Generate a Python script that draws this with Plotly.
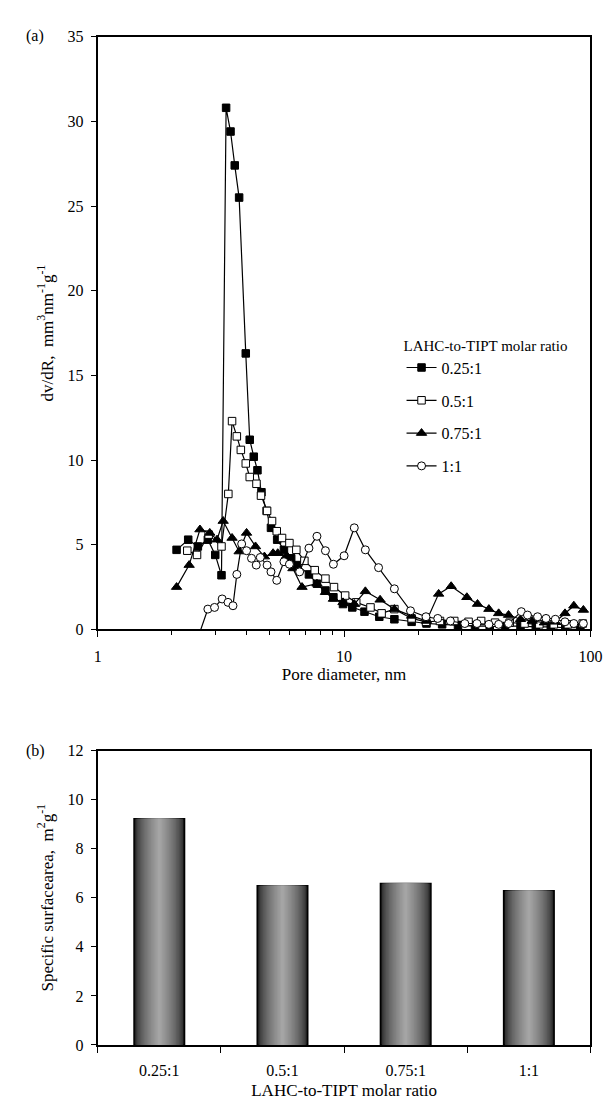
import plotly.graph_objects as go

# ---------------- data: panel (a) ----------------
series_names = ["0.25:1", "0.5:1", "0.75:1", "1:1"]

pore_025 = [2.09, 2.33, 2.55, 2.80, 3.00, 3.18, 3.32, 3.46, 3.60, 3.75, 3.99, 4.14, 4.30, 4.45, 4.62,
            4.85, 5.05, 5.35, 5.70, 6.10, 6.46, 7.20, 7.76, 8.40, 9.05, 9.90, 10.8, 12.1, 13.9, 16.0,
            18.8, 21.6, 25.0, 29.0, 34.0, 39.0, 45.0, 52.0, 60.0, 69.0, 79.0, 91.0]
dvdr_025 = [4.7, 5.3, 4.9, 5.3, 4.4, 3.2, 30.8, 29.4, 27.4, 25.5, 16.3, 11.2, 10.2, 9.4, 8.1,
            7.0, 6.0, 5.3, 4.7, 4.2, 3.8, 3.25, 2.7, 2.3, 1.9, 1.5, 1.3, 1.05, 0.75, 0.6,
            0.45, 0.35, 0.3, 0.25, 0.2, 0.2, 0.2, 0.2, 0.15, 0.15, 0.1, 0.1]

pore_050 = [2.31, 2.53, 2.82, 3.18, 3.39, 3.51, 3.67, 3.81, 3.99, 4.14, 4.41, 4.60, 4.87, 5.10, 5.33,
            5.60, 6.00, 6.40, 6.90, 7.60, 8.40, 9.10, 10.1, 11.2, 12.8, 14.2, 16.0, 18.8, 21.5, 24.5,
            28.0, 32.0, 36.0, 41.0, 47.0, 54.0, 62.0, 71.0, 81.0, 93.0]
dvdr_050 = [4.65, 4.4, 5.6, 4.9, 8.0, 12.3, 11.4, 10.6, 9.8, 9.0, 8.6, 7.9, 7.0, 6.4, 5.8,
            5.4, 5.1, 4.7, 4.05, 3.5, 3.0, 2.5, 2.0, 1.6, 1.3, 0.95, 1.2, 0.65, 0.45, 0.5,
            0.5, 0.45, 0.5, 0.4, 0.4, 0.35, 0.3, 0.3, 0.3, 0.35]

pore_075 = [2.09, 2.35, 2.60, 2.85, 3.05, 3.23, 3.51, 3.75, 4.02, 4.37, 4.75, 5.15, 5.38, 5.85, 6.20,
            6.75, 7.76, 8.40, 9.05, 9.90, 11.0, 12.2, 14.0, 16.0, 18.8, 21.6, 24.2, 27.2, 31.5, 34.8,
            38.7, 42.4, 46.5, 52.0, 58.0, 65.0, 72.0, 78.8, 85.6, 93.6]
dvdr_075 = [2.5, 3.8, 5.9, 5.7, 5.3, 6.4, 5.4, 4.6, 5.7, 4.9, 4.3, 4.5, 4.5, 4.35, 3.6,
            2.5, 2.7, 2.2, 1.8, 1.6, 1.5, 2.25, 1.75, 1.2, 0.8, 0.5, 2.1, 2.55, 1.9, 1.5,
            1.2, 0.95, 0.85, 0.6, 0.5, 0.4, 0.45, 0.95, 1.4, 1.15]

pore_100 = [2.55, 2.80, 2.98, 3.20, 3.38, 3.54, 3.67, 3.84, 4.02, 4.21, 4.40, 4.57, 4.87, 5.05, 5.33,
            5.70, 6.00, 6.60, 7.20, 7.76, 8.40, 9.05, 10.0, 11.0, 12.2, 13.8, 16.0, 18.6, 21.5, 24.0,
            27.0, 30.9, 34.6, 38.7, 42.4, 46.5, 52.4, 55.5, 61.0, 66.0, 72.0, 78.8, 85.6, 93.6]
dvdr_100 = [-0.5, 1.2, 1.3, 1.8, 1.6, 1.4, 3.25, 5.05, 4.65, 4.2, 3.8, 4.25, 3.8, 3.4, 2.9,
            4.0, 3.85, 3.4, 4.8, 5.5, 4.65, 3.85, 4.35, 6.0, 4.7, 3.65, 2.4, 1.1, 0.75, 0.65,
            0.5, 0.35, 0.35, 0.3, 0.3, 0.35, 1.05, 0.85, 0.75, 0.65, 0.6, 0.45, 0.35, 0.35]

x_ticks_a = [1, 10, 100]
x_minor_a = [2, 3, 4, 5, 6, 7, 8, 9, 20, 30, 40, 50, 60, 70, 80, 90]

# ---------------- data: panel (b) ----------------
ratio_categories = ["0.25:1", "0.5:1", "0.75:1", "1:1"]
surface_area = [9.22, 6.49, 6.58, 6.29]

# ---------------- figure ----------------
W, H = 612, 1108
FONT = "Liberation Serif"
fig = go.Figure()

series = [
    (pore_025, dvdr_025, "square", "black", 7.5),
    (pore_050, dvdr_050, "square", "white", 7.5),
    (pore_075, dvdr_075, "triangle-up", "black", 9),
    (pore_100, dvdr_100, "circle", "white", 8),
]
for name, (xs, ys, sym, fill, sz) in zip(series_names, series):
    fig.add_trace(go.Scatter(
        x=xs, y=ys, mode="lines+markers", name=name, legendgroup=name,
        line=dict(color="black", width=1.2),
        marker=dict(symbol=sym, color=fill, size=sz, line=dict(color="black", width=1)),
        xaxis="x", yaxis="y",
    ))

# gradient-looking bars built from overlays of narrowing width
N = 18
bar_w = 0.41
for k in range(N):
    t = k / (N - 1)
    g = int(22 + (165 - 22) * (t ** 0.55))
    fig.add_trace(go.Bar(
        x=ratio_categories, y=surface_area, width=bar_w * (1 - k / N),
        marker=dict(color=f"rgb({g},{g},{g})",
                    line=dict(color="black", width=1.5 if k == 0 else 0)),
        xaxis="x2", yaxis="y2", showlegend=False, hoverinfo="skip",
    ))

xdom = [88 / W, 594 / W]
ax_common = dict(showgrid=False, zeroline=False, linecolor="black", linewidth=2,
                 mirror=True, ticks="outside", tickcolor="black", tickwidth=1.2,
                 tickfont=dict(family=FONT, size=16, color="black"))

fig.update_layout(
    width=W, height=H, margin=dict(l=0, r=0, t=0, b=0),
    paper_bgcolor="white", plot_bgcolor="white", barmode="overlay",
    font=dict(family=FONT, size=16, color="black"),
    xaxis=dict(type="log", domain=xdom, range=[0, 2], anchor="y",
               tickmode="array", tickvals=x_ticks_a, ticktext=[str(v) for v in x_ticks_a],
               ticklen=6, ticklabelstandoff=5,
               minor=dict(tickmode="array", tickvals=x_minor_a, ticks="outside", ticklen=4,
                          tickcolor="black", showgrid=False),
               title=dict(text="Pore diameter, nm", font=dict(size=17), standoff=4),
               **ax_common),
    yaxis=dict(domain=[1 - 623 / H, 1 - 21 / H], range=[0, 35], dtick=5, anchor="x", ticklen=5,
               ticklabelstandoff=4,
               title=dict(text="dv/dR,  mm<sup>3</sup>nm<sup>-1</sup>g<sup>-1</sup>",
                          font=dict(size=17), standoff=10),
               **ax_common),
    xaxis2=dict(type="category", domain=xdom, range=[-0.5, 3.5], anchor="y2",
                tickson="boundaries", ticklen=6, ticklabelstandoff=10,
                title=dict(text="LAHC-to-TIPT molar ratio", font=dict(size=17), standoff=6),
                **ax_common),
    yaxis2=dict(domain=[1 - 1045 / H, 1 - 746 / H], range=[0, 12], dtick=2, anchor="x2", ticklen=5,
                ticklabelstandoff=4,
                title=dict(text="Specific surfacearea,  m<sup>2</sup>g<sup>-1</sup>",
                           font=dict(size=17), standoff=10),
                **ax_common),
    legend=dict(x=400 / W, y=1 - 320 / H, xanchor="left", yanchor="top",
                bgcolor="rgba(0,0,0,0)", traceorder="grouped", tracegroupgap=9,
                title=dict(text="LAHC-to-TIPT molar ratio", font=dict(size=15)),
                font=dict(size=16), itemwidth=30),
    annotations=[
        dict(text="(a)", x=12 / W, y=1 - 20 / H, xref="paper", yref="paper",
             xanchor="left", yanchor="middle", showarrow=False, font=dict(size=16)),
        dict(text="(b)", x=12 / W, y=1 - 746 / H, xref="paper", yref="paper",
             xanchor="left", yanchor="middle", showarrow=False, font=dict(size=16)),
    ],
)

fig.write_html("out.html")
